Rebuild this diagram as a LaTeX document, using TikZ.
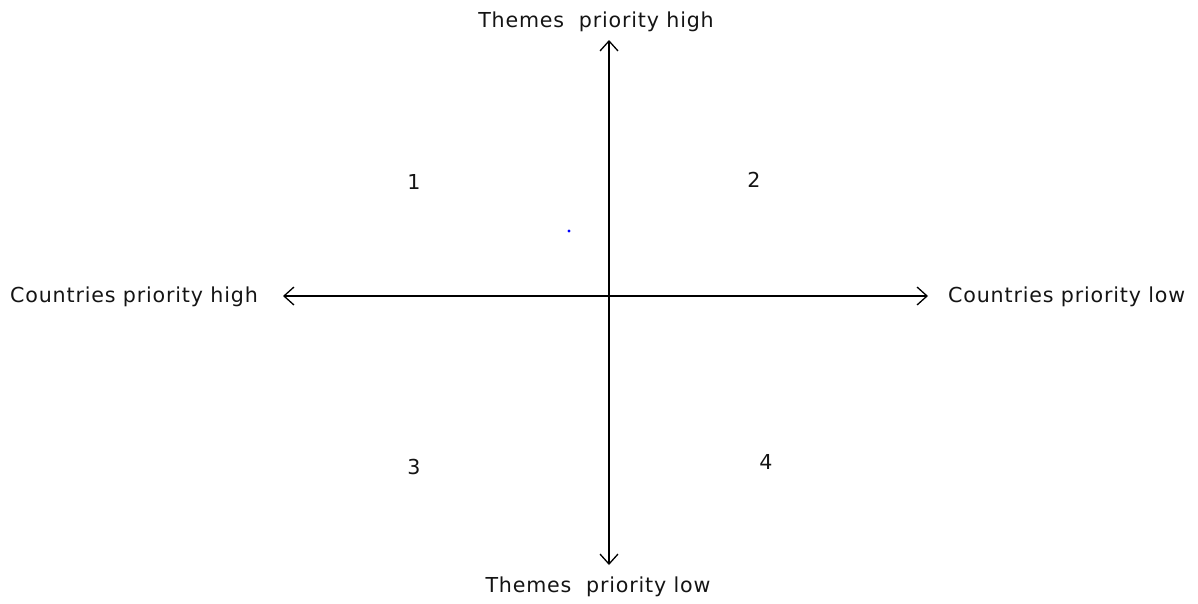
\documentclass[tikz,border=0pt]{standalone}
\usepackage{fontspec}
\setmainfont{DejaVu Sans}[LetterSpace=4]
\usetikzlibrary{arrows.meta}
\begin{document}
\begin{tikzpicture}[x=1pt,y=-1pt,
  lbl/.style={font=\fontsize{20.6}{24}\selectfont, text=black!92, inner sep=0pt},
  axis/.style={line width=1.3pt, {Straight Barb[length=10pt,width=18pt]}-{Straight Barb[length=10pt,width=18pt]}}]
\useasboundingbox (0,0) rectangle (1198,603);
\node[lbl] (top) at (596,22) {Themes\ \ priority high};
\node[lbl] (bot) at (598,587) {Themes\ \ priority low};
\node[lbl, anchor=east] (left) at (258,297) {Countries priority high};
\node[lbl, anchor=west] (right) at (948,297) {Countries priority low};
\coordinate (t) at (609,40);
\coordinate (b) at (609,565);
\coordinate (l) at (283,296);
\coordinate (r) at (928,296);
\draw[axis] (b) -- (t);
\draw[axis] (l) -- (r);
\node[lbl] (q1) at (414,182) {1};
\node[lbl] (q2) at (754,180) {2};
\node[lbl] (q3) at (414,467) {3};
\node[lbl] (q4) at (766,462) {4};
\fill[blue] (569,231) circle (1.6);
\end{tikzpicture}
\end{document}
